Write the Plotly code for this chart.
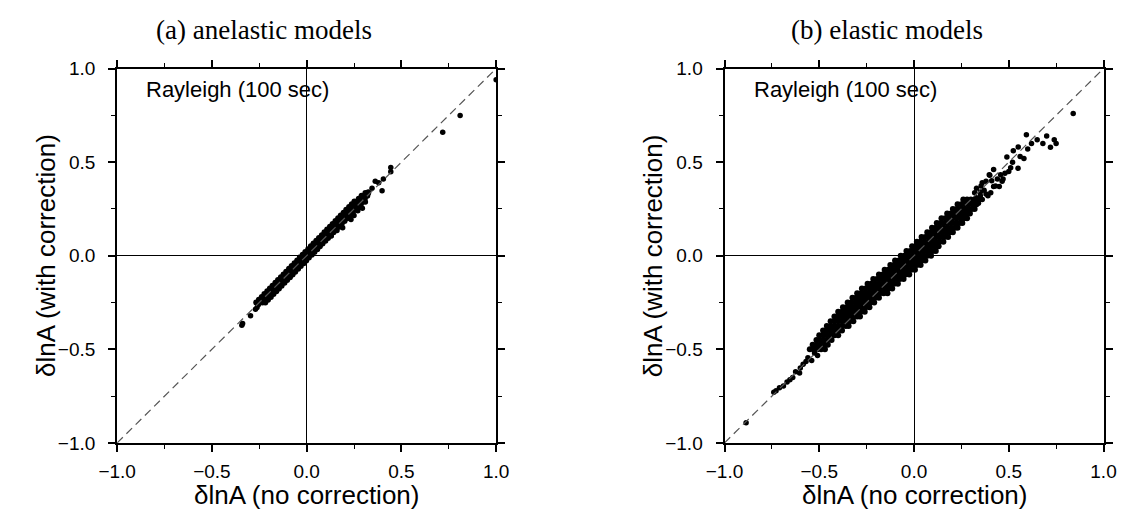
import plotly.graph_objects as go

# ---------------- data ----------------
AXIS_RANGE = [-1.0, 1.0]
TICKS = [-1.0, -0.5, 0.0, 0.5, 1.0]
TICK_TEXT = ["\u22121.0", "\u22120.5", "0.0", "0.5", "1.0"]

# (a) anelastic models: dense core, rows of points at given y levels
A_LEVELS = [-0.25, -0.235, -0.22, -0.205, -0.19, -0.175, -0.16, -0.145, -0.13, -0.115,
            -0.1, -0.085, -0.07, -0.055, -0.04, -0.025, -0.01, 0.005, 0.02, 0.035,
            0.05, 0.065, 0.08, 0.095, 0.11, 0.125, 0.14, 0.155, 0.17, 0.185,
            0.2, 0.215, 0.23, 0.245, 0.26, 0.275, 0.29, 0.305, 0.32, 0.335]
A_XS = [[-0.266, -0.25, -0.234, -0.218], [-0.252, -0.236, -0.22, -0.204],
        [-0.237, -0.221, -0.205, -0.189], [-0.223, -0.207, -0.191, -0.175],
        [-0.208, -0.192, -0.176, -0.16], [-0.194, -0.178, -0.162, -0.146],
        [-0.18, -0.164, -0.148, -0.132], [-0.165, -0.149, -0.133, -0.117],
        [-0.151, -0.135, -0.119, -0.103], [-0.136, -0.12, -0.104, -0.088],
        [-0.122, -0.106, -0.09, -0.074], [-0.108, -0.092, -0.076, -0.06],
        [-0.093, -0.077, -0.061, -0.045], [-0.079, -0.063, -0.047, -0.031],
        [-0.064, -0.048, -0.032, -0.016], [-0.05, -0.034, -0.018, -0.002],
        [-0.036, -0.02, -0.004, 0.012], [-0.021, -0.005, 0.011, 0.027],
        [-0.007, 0.009, 0.025, 0.041], [0.008, 0.024, 0.04, 0.056],
        [0.022, 0.038, 0.054, 0.07], [0.036, 0.052, 0.068, 0.084],
        [0.051, 0.067, 0.083, 0.099], [0.065, 0.081, 0.097, 0.113],
        [0.08, 0.096, 0.112, 0.128], [0.094, 0.11, 0.126, 0.142],
        [0.108, 0.124, 0.14, 0.156], [0.123, 0.139, 0.155, 0.171],
        [0.137, 0.153, 0.169, 0.185], [0.152, 0.168, 0.184, 0.2],
        [0.166, 0.182, 0.198, 0.214], [0.18, 0.196, 0.212, 0.228],
        [0.195, 0.211, 0.227, 0.243], [0.209, 0.225, 0.241, 0.257],
        [0.224, 0.24, 0.256, 0.272], [0.238, 0.254, 0.27, 0.286],
        [0.252, 0.268, 0.284, 0.3], [0.275, 0.291, 0.307],
        [0.29, 0.306, 0.32], [0.31, 0.325]]
# (a) scattered points off the core
A_TAIL_X = [-0.342, -0.338, -0.296, -0.27, -0.262, -0.255, -0.25, 0.31, 0.325, 0.345,
            0.362, 0.38, 0.405, 0.398, 0.294, 0.234, 0.19, 0.444, 0.444, 0.718, 0.81,
            1.0, 0.25, 0.27, 0.13, 0.16]
A_TAIL_Y = [-0.371, -0.362, -0.321, -0.286, -0.277, -0.262, -0.243, 0.287, 0.34, 0.36,
            0.398, 0.39, 0.41, 0.347, 0.253, 0.193, 0.15, 0.472, 0.448, 0.66, 0.749,
            0.94, 0.215, 0.24, 0.105, 0.135]

# (b) elastic models: dense core rows
B_LEVELS = [-0.5, -0.475, -0.45, -0.425, -0.4, -0.375, -0.35, -0.325, -0.3, -0.275,
            -0.25, -0.225, -0.2, -0.175, -0.15, -0.125, -0.1, -0.075, -0.05, -0.025,
            0.0, 0.025, 0.05, 0.075, 0.1, 0.125, 0.15, 0.175, 0.2, 0.225, 0.25, 0.275,
            0.3]
B_XS = [[-0.55, -0.53, -0.51, -0.49, -0.47],
        [-0.535, -0.515, -0.495, -0.475, -0.455],
        [-0.515, -0.495, -0.475, -0.455, -0.435],
        [-0.5, -0.48, -0.46, -0.44, -0.42, -0.4],
        [-0.48, -0.46, -0.44, -0.42, -0.4, -0.38],
        [-0.46, -0.44, -0.42, -0.4, -0.38, -0.36, -0.345],
        [-0.44, -0.42, -0.4, -0.38, -0.36, -0.34, -0.32],
        [-0.42, -0.4, -0.38, -0.36, -0.34, -0.32, -0.3, -0.285],
        [-0.4, -0.38, -0.36, -0.34, -0.32, -0.3, -0.28, -0.26],
        [-0.375, -0.355, -0.335, -0.315, -0.295, -0.275, -0.255, -0.235],
        [-0.35, -0.33, -0.31, -0.29, -0.27, -0.25, -0.23, -0.21],
        [-0.325, -0.305, -0.285, -0.265, -0.245, -0.225, -0.205, -0.185],
        [-0.3, -0.28, -0.26, -0.24, -0.22, -0.2, -0.18, -0.16, -0.14],
        [-0.275, -0.255, -0.235, -0.215, -0.195, -0.175, -0.155, -0.135, -0.115],
        [-0.245, -0.225, -0.205, -0.185, -0.165, -0.145, -0.125, -0.105, -0.085],
        [-0.215, -0.195, -0.175, -0.155, -0.135, -0.115, -0.095, -0.075, -0.055],
        [-0.185, -0.165, -0.145, -0.125, -0.105, -0.085, -0.065, -0.045, -0.025],
        [-0.155, -0.135, -0.115, -0.095, -0.075, -0.055, -0.035, -0.015, 0.005],
        [-0.125, -0.105, -0.085, -0.065, -0.045, -0.025, -0.005, 0.015, 0.035],
        [-0.1, -0.08, -0.06, -0.04, -0.02, 0.0, 0.02, 0.04, 0.06],
        [-0.07, -0.05, -0.03, -0.01, 0.01, 0.03, 0.05, 0.07, 0.09],
        [-0.04, -0.02, 0.0, 0.02, 0.04, 0.06, 0.08, 0.1, 0.115],
        [-0.01, 0.01, 0.03, 0.05, 0.07, 0.09, 0.11, 0.13],
        [0.015, 0.035, 0.055, 0.075, 0.095, 0.115, 0.135, 0.155],
        [0.04, 0.06, 0.08, 0.1, 0.12, 0.14, 0.16, 0.18],
        [0.07, 0.09, 0.11, 0.13, 0.15, 0.17, 0.19, 0.205],
        [0.095, 0.115, 0.135, 0.155, 0.175, 0.195, 0.215, 0.23],
        [0.12, 0.14, 0.16, 0.18, 0.2, 0.22, 0.24, 0.255],
        [0.145, 0.165, 0.185, 0.205, 0.225, 0.245, 0.265, 0.28],
        [0.175, 0.195, 0.215, 0.235, 0.255, 0.275, 0.295],
        [0.205, 0.225, 0.245, 0.265, 0.285, 0.305, 0.32],
        [0.23, 0.25, 0.27, 0.29, 0.31, 0.33],
        [0.26, 0.28, 0.3, 0.32, 0.345]]
B_TAIL_X = [-0.886, -0.74, -0.728, -0.71, -0.689, -0.67, -0.655, -0.64, -0.625, -0.604,
            -0.6, -0.585, -0.57, -0.56, -0.54, -0.509, -0.525, -0.484, -0.5,
            0.32, 0.328, 0.354, 0.35, 0.38, 0.397, 0.39, 0.405, 0.43, 0.457, 0.465,
            0.44, 0.42, 0.49, 0.524, 0.55, 0.549, 0.52, 0.5, 0.593, 0.6, 0.58, 0.62,
            0.65, 0.68, 0.7, 0.72, 0.74, 0.75, 0.84, 0.36, 0.34, 0.37, 0.33, 0.36,
            0.38, 0.45, 0.41, 0.42, 0.47, 0.48, 0.51, 0.56, 0.4, 0.35]
B_TAIL_Y = [-0.892, -0.73, -0.722, -0.705, -0.696, -0.675, -0.662, -0.65, -0.62, -0.627,
            -0.6, -0.58, -0.565, -0.545, -0.56, -0.533, -0.52, -0.465, -0.45,
            0.337, 0.31, 0.373, 0.34, 0.398, 0.433, 0.32, 0.337, 0.373, 0.433, 0.398,
            0.41, 0.46, 0.527, 0.561, 0.581, 0.467, 0.5, 0.45, 0.646, 0.57, 0.52, 0.6,
            0.62, 0.6, 0.64, 0.58, 0.62, 0.6, 0.76, 0.3, 0.28, 0.35, 0.36, 0.39,
            0.33, 0.37, 0.4, 0.37, 0.41, 0.44, 0.47, 0.53, 0.43, 0.32]


def expand(levels, rows):
    xs, ys = [], []
    for y, row in zip(levels, rows):
        for x in row:
            xs.append(x)
            ys.append(y)
    return xs, ys


ax_x, ax_y = expand(A_LEVELS, A_XS)
bx_x, bx_y = expand(B_LEVELS, B_XS)

W, H = 1134, 523
# plot frames in pixels
LEFT = (101, 491)
RIGHT = (726, 1116)
TOP, BOT = 61, 451


def px(x):
    return x / W


def py(y):
    return 1 - y / H


fig = go.Figure()
core_dot = dict(color="black", size=6)
dot = dict(color="black", size=5.5)
line_style = dict(color="rgb(85,85,85)", width=1.2, dash="8px,5px")

for xa, ya, cx, cy, tx, ty in [("x", "y", ax_x, ax_y, A_TAIL_X, A_TAIL_Y),
                                ("x2", "y2", bx_x, bx_y, B_TAIL_X, B_TAIL_Y)]:
    fig.add_trace(go.Scatter(x=cx, y=cy, mode="markers", marker=core_dot,
                             xaxis=xa, yaxis=ya, showlegend=False, hoverinfo="skip"))
    fig.add_trace(go.Scatter(x=tx, y=ty, mode="markers", marker=dot,
                             xaxis=xa, yaxis=ya, showlegend=False, hoverinfo="skip"))
    fig.add_trace(go.Scatter(x=AXIS_RANGE, y=AXIS_RANGE, mode="lines", line=line_style,
                             xaxis=xa, yaxis=ya, showlegend=False, hoverinfo="skip"))

sans = "Liberation Sans, Arial, sans-serif"
serif = "Liberation Serif, Times New Roman, serif"
tickfont = dict(family=sans, size=19, color="black")
common = dict(range=AXIS_RANGE, tickvals=TICKS, ticktext=TICK_TEXT, showgrid=False,
              zeroline=True, zerolinecolor="black", zerolinewidth=1,
              showline=True, linecolor="black", linewidth=2, mirror="allticks",
              ticks="outside", ticklen=7, tickwidth=1.5, tickcolor="black",
              minor=dict(dtick=0.25, tick0=0, ticks="outside", ticklen=4, tickwidth=1.2,
                         tickcolor="black", showgrid=False),
              tickfont=tickfont, fixedrange=True)

fig.update_layout(
    width=W, height=H, margin=dict(l=0, r=0, t=0, b=0),
    paper_bgcolor="white", plot_bgcolor="white",
    xaxis=dict(domain=[px(LEFT[0]), px(LEFT[1])], anchor="y", ticklabelstandoff=3, **common),
    yaxis=dict(domain=[py(BOT), py(TOP)], anchor="x", ticklabelstandoff=9, **common),
    xaxis2=dict(domain=[px(RIGHT[0]), px(RIGHT[1])], anchor="y2", ticklabelstandoff=3, **common),
    yaxis2=dict(domain=[py(BOT), py(TOP)], anchor="x2", ticklabelstandoff=9, **common),
)

ann = []


def add_text(text, x, y, size, family, angle=0, xanchor="center"):
    ann.append(dict(text=text, x=px(x), y=py(y), xref="paper", yref="paper",
                    xanchor=xanchor, yanchor="middle", textangle=angle, showarrow=False,
                    font=dict(family=family, size=size, color="black")))


add_text("(a) anelastic models", 252, 21, 27, serif)
add_text("(b) elastic models", 893, 21, 27, serif)
for (l, r) in (LEFT, RIGHT):
    add_text("Rayleigh (100 sec)", l + 28, 83, 22, sans, xanchor="left")
    add_text("\u03b4lnA (no correction)", (l + r) / 2, 505, 26, sans)
    add_text("\u03b4lnA (with correction)", l - 74, (TOP + BOT) / 2, 26, sans, angle=-90)
fig.update_layout(annotations=ann)

fig.write_html("out.html")
